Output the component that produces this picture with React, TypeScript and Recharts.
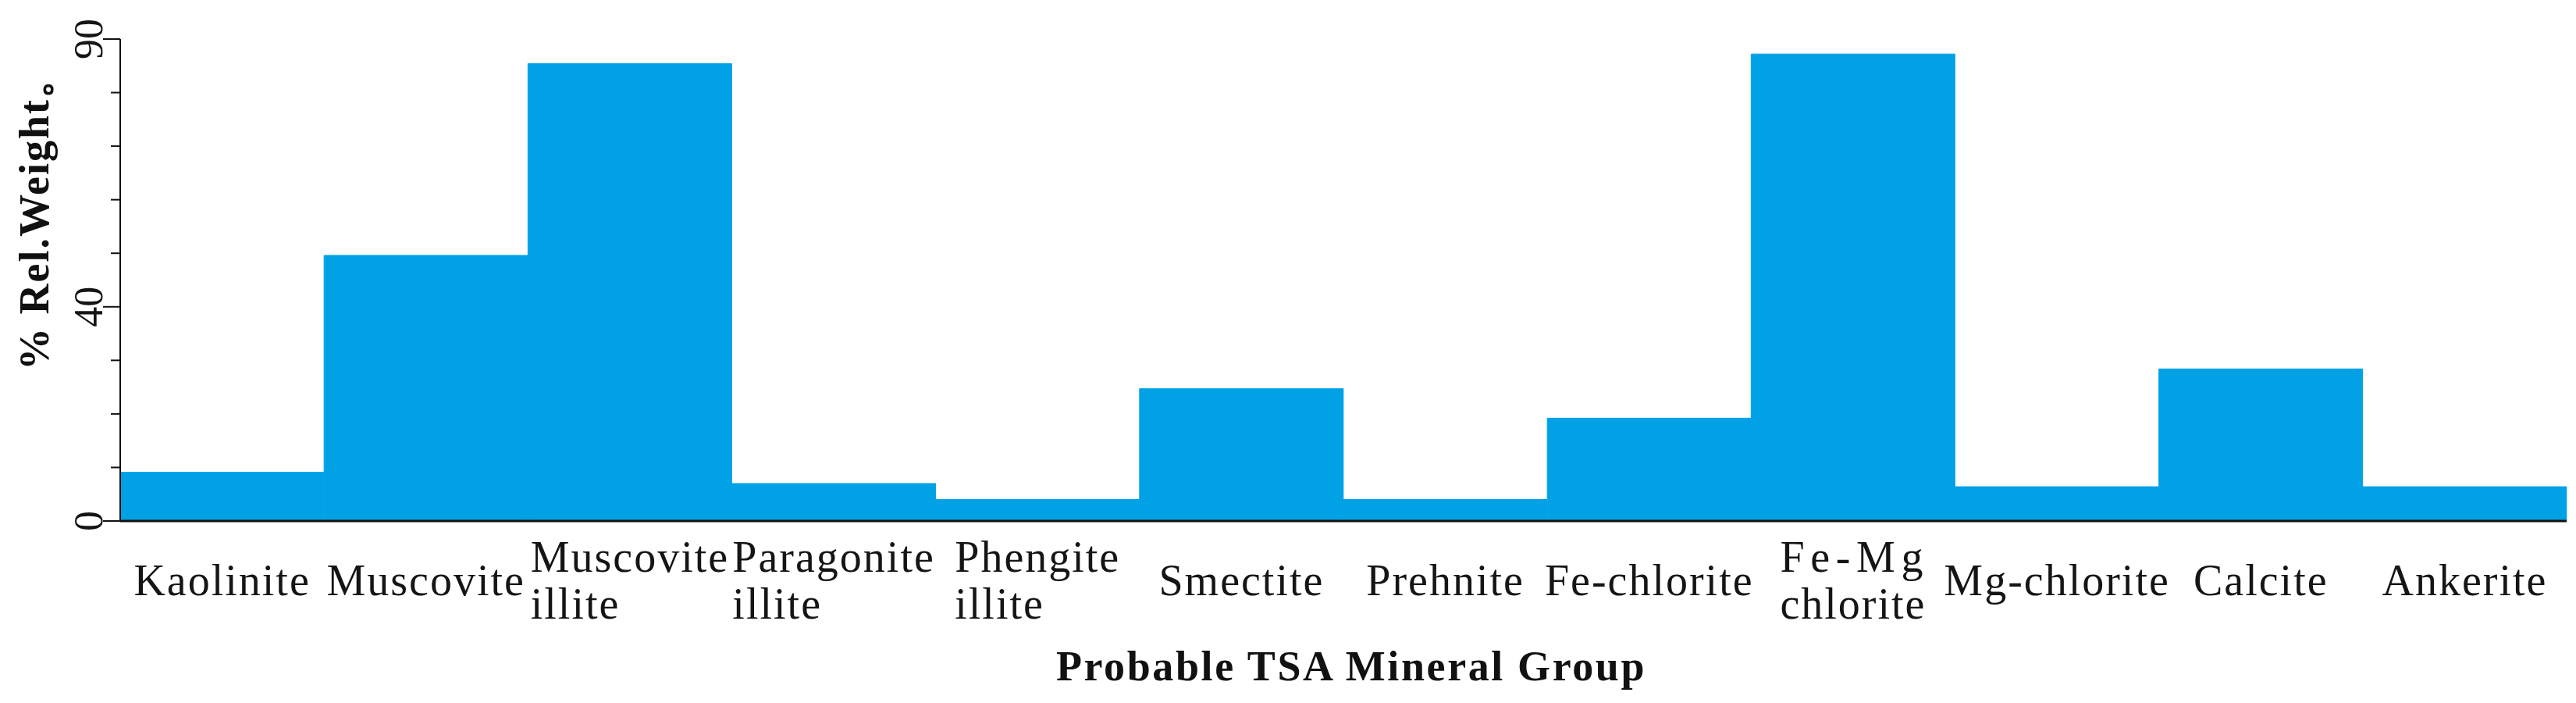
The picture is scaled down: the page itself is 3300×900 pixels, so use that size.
import { BarChart, Bar, XAxis, YAxis } from 'recharts';

const categories = [
  'Kaolinite',
  'Muscovite',
  'Muscovite\nillite',
  'Paragonite\nillite',
  'Phengite\nillite',
  'Smectite',
  'Prehnite',
  'Fe-chlorite',
  'Fe-Mg\nchlorite',
  'Mg-chlorite',
  'Calcite',
  'Ankerite',
];

const relWeight = [9.1, 49.6, 85.4, 7.0, 4.0, 24.7, 4.0, 19.2, 87.2, 6.4, 28.4, 6.4];

const yTicks = [0, 10, 20, 30, 40, 50, 60, 70, 80, 90];
const yTickLabels = [0, 40, 90];

const xTitle = 'Probable TSA Mineral Group';
const yTitle = '% Rel.Weight。';

const data = categories.map((name, i) => ({ name, value: relWeight[i] }));

const SERIF = '"Liberation Serif", "Times New Roman", serif';
const LABEL_SIZE = 56;
const LABEL_SPACING = 2;
const BAR_BLUE = '#00A1E5';

let ctx: CanvasRenderingContext2D | null = null;
function textWidth(s: string) {
  if (!ctx) ctx = document.createElement('canvas').getContext('2d');
  if (!ctx) return s.length * LABEL_SIZE * 0.45;
  ctx.font = `${LABEL_SIZE}px ${SERIF}`;
  return ctx.measureText(s).width + LABEL_SPACING * s.length;
}

// category labels: block centred under the bar, lines left aligned
const CategoryTick = (props: any) => {
  const { x, y, payload } = props;
  const lines = String(payload.value).split('\n');
  const widths = lines.map(textWidth);
  const maxW = Math.max(...widths);
  const left = x - maxW / 2;
  return (
    <g>
      {lines.map((line, i) => {
        const stretch = i === 0 && widths[i] < maxW - 4;
        return (
          <text
            key={i}
            x={left}
            y={y + 95 - (lines.length - 1) * 30 + i * 60}
            textAnchor="start"
            fontFamily={SERIF}
            fontSize={LABEL_SIZE}
            letterSpacing={LABEL_SPACING}
            fill="#151515"
            {...(stretch ? { textLength: maxW - LABEL_SPACING, lengthAdjust: 'spacing' } : {})}
          >
            {line}
          </text>
        );
      })}
    </g>
  );
};

const WeightTick = (props: any) => {
  const { x, y, payload } = props;
  const labelled = yTickLabels.includes(payload.value);
  const len = labelled ? 22 : 12;
  return (
    <g>
      <line x1={x - len} y1={y} x2={x} y2={y} stroke="#111" strokeWidth={2} />
      {labelled && (
        <text
          x={x - 23}
          y={y}
          transform={`rotate(-90, ${x - 23}, ${y})`}
          textAnchor="middle"
          fontFamily={SERIF}
          fontSize={52}
          fill="#151515"
        >
          {payload.value}
        </text>
      )}
    </g>
  );
};

const App = () => (
  <div style={{ position: 'absolute', left: 0, top: 0, background: '#fff' }}>
    <BarChart
      width={3300}
      height={900}
      data={data}
      margin={{ top: 50, right: 12, left: 0, bottom: 0 }}
      barCategoryGap={0}
      barGap={0}
    >
      <XAxis
        dataKey="name"
        interval={0}
        height={233}
        tickLine={false}
        tickSize={0}
        tickMargin={0}
        axisLine={{ stroke: '#111', strokeWidth: 3 }}
        tick={(p: any) => <CategoryTick {...p} />}
        label={(p: any) => {
          const vb = p.viewBox || { x: 154, y: 667, width: 3134 };
          return (
            <text
              x={vb.x + vb.width / 2 + 10}
              y={vb.y + 204}
              textAnchor="middle"
              fontFamily={SERIF}
              fontWeight="bold"
              fontSize={54}
              letterSpacing={2.6}
              fill="#111"
            >
              {xTitle}
            </text>
          );
        }}
      />
      <YAxis
        type="number"
        domain={[0, 90]}
        ticks={yTicks}
        interval={0}
        width={154}
        tickLine={false}
        tickSize={0}
        tickMargin={0}
        axisLine={{ stroke: '#111', strokeWidth: 2 }}
        tick={(p: any) => <WeightTick {...p} />}
        label={() => (
          <text
            x={62}
            y={272}
            transform="rotate(-90, 62, 272)"
            textAnchor="middle"
            fontFamily={SERIF}
            fontWeight="bold"
            fontSize={54}
            letterSpacing={2}
            fill="#111"
          >
            {yTitle}
          </text>
        )}
      />
      <Bar
        dataKey="value"
        fill={BAR_BLUE}
        stroke={BAR_BLUE}
        strokeWidth={1}
        isAnimationActive={false}
      />
    </BarChart>
  </div>
);

export default App;
